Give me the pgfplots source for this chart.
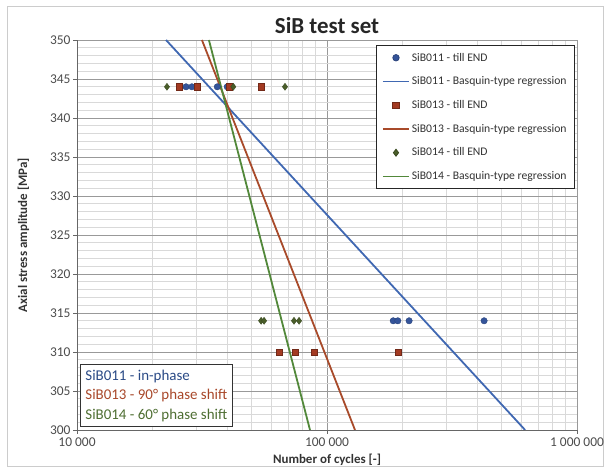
\documentclass[border=0pt]{standalone}
\usepackage{pgfplots}
\pgfplotsset{compat=1.18}
\usepackage{fontspec}
\setmainfont{Carlito}

\definecolor{blueM}{HTML}{34549A}
\definecolor{blueL}{HTML}{4068B2}
\definecolor{redM}{HTML}{A33A22}
\definecolor{redL}{HTML}{A84A2A}
\definecolor{greenM}{HTML}{4A5E2A}
\definecolor{greenL}{HTML}{52883A}
\definecolor{blueT}{HTML}{2A4A86}
\definecolor{redT}{HTML}{A8482A}
\definecolor{greenT}{HTML}{4E6E32}

\begin{document}
\begin{tikzpicture}[x=1bp,y=1bp]
\path[use as bounding box] (-77,-40) rectangle (533,430);
\draw[black!20, line width=0.6bp] (-70,-36) rectangle (526,424);
\begin{axis}[
  at={(0,0)}, anchor=south west,
  scale only axis, width=500bp, height=390bp,
  xmode=log, log basis x=10,
  xmin=1e4, xmax=1e6, ymin=300, ymax=350,
  xtick={1e4,1e5,1e6},
  xticklabels={10 000,100 000,1 000 000},
  minor xtick={2e4,3e4,4e4,5e4,6e4,7e4,8e4,9e4,2e5,3e5,4e5,5e5,6e5,7e5,8e5,9e5},
  ytick={300,305,...,350},
  minor ytick={300,301,...,350},
  grid=both,
  major grid style={black!40, line width=0.6bp},
  minor grid style={black!15, line width=0.6bp},
  axis x line*=bottom, axis y line*=left,
  axis line style={black!60, line width=0.7bp, -},
  major tick length=4bp, minor tick length=0bp,
  tick style={black!60, line width=0.7bp},
  xtick align=outside, ytick align=outside,
  /pgf/number format/assume math mode=true,
  tick label style={font=\fontsize{13.5}{15}\selectfont, text=black!70},
  yticklabel style={xshift=1bp},
  xlabel={\textbf{Number of cycles [-]}},
  ylabel={\textbf{Axial stress amplitude [MPa]}},
  label style={font=\fontsize{13}{15}\selectfont, text=black!80},
  xlabel style={yshift=-1bp},
  ylabel style={yshift=14bp},
  title={\textbf{SiB test set}},
  title style={font=\fontsize{23}{26}\selectfont, text=black!85, yshift=-3bp},
  legend image code/.code={\draw[mark repeat=2,mark phase=2,#1] plot coordinates {(0bp,0bp) (13bp,0bp) (26bp,0bp)};},
  legend style={at={(rel axis cs:0.996,0.987)}, anchor=north east,
    draw=black!85, line width=0.8bp, fill=white,
    font=\fontsize{11.7}{13}\selectfont, text=black!80,
    row sep=10.2bp, inner xsep=6bp, inner ysep=5.5bp,
    /tikz/every even column/.append style={column sep=1bp}},
  legend cell align=left,
]

% SiB011 measurements
\addplot[only marks, mark=*, mark size=3.2bp, draw=blueM!80!black, fill=blueM] coordinates {
  (2.73e4,344) (2.88e4,344) (3.64e4,344) (3.99e4,344)
  (1.84e5,314) (1.92e5,314) (2.13e5,314) (4.25e5,314)
};
\addlegendentry{SiB011 - till END}
\addplot[blueL, line width=1.8bp, no marks,
  legend image post style={draw=blueL, line width=1.8bp}]
  coordinates {(2.27e4,350) (6.2e5,300)};
\addlegendentry{SiB011 - Basquin-type regression}

% SiB013 measurements
\addplot[only marks, mark=square*, mark size=3.1bp, draw=redM!70!black, fill=redM] coordinates {
  (2.56e4,344) (3.02e4,344) (4.05e4,344) (5.45e4,344)
  (6.43e4,310) (7.45e4,310) (8.87e4,310) (1.92e5,310)
};
\addlegendentry{SiB013 - till END}
\addplot[redL, line width=1.8bp, no marks,
  legend image post style={draw=redL, line width=1.8bp}]
  coordinates {(3.16e4,350) (1.294e5,300)};
\addlegendentry{SiB013 - Basquin-type regression}

% SiB014 measurements
\addplot[only marks, mark=diamond*, mark size=3.5bp, draw=greenM!80!black, fill=greenM] coordinates {
  (2.29e4,344) (4.22e4,344) (6.79e4,344)
  (5.45e4,314) (5.60e4,314) (7.38e4,314) (7.73e4,314)
};
\addlegendentry{SiB014 - till END}
\addplot[greenL, line width=1.8bp, no marks,
  legend image post style={draw=greenL, line width=1.8bp}]
  coordinates {(3.37e4,350) (8.55e4,300)};
\addlegendentry{SiB014 - Basquin-type regression}

\node[draw=black!80, line width=0.8bp, fill=white, anchor=south west,
      align=left, inner xsep=5bp, inner ysep=5bp,
      font=\fontsize{15}{19.5}\selectfont]
  at (rel axis cs:0.006,0.008)
  {\textcolor{blueT}{SiB011 - in-phase}\\
   \textcolor{redT}{SiB013 - 90° phase shift}\\
   \textcolor{greenT}{SiB014 - 60° phase shift}};
\end{axis}
\end{tikzpicture}
\end{document}
